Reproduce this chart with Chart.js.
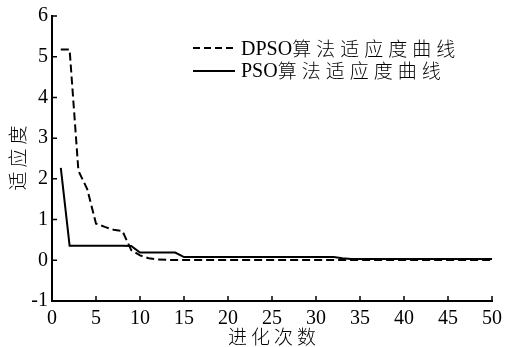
<!DOCTYPE html>
<html><head><meta charset="utf-8">
<script src="https://cdn.jsdelivr.net/npm/chart.js@4"></script>
<style>html,body{margin:0;padding:0;background:#fff}#w{width:508px;height:347px;position:relative}</style>
</head><body><div id="w"><canvas id="c" width="508" height="347"></canvas></div>
<script>
const generations = Array.from({length: 50}, (_, i) => i + 1);
const dpsoFitness = [5.18,5.18,2.2,1.75,0.9,0.82,0.75,0.72,0.25,0.12,
  0.05,0.02,0.01,0.01,0.01,0.01,0.01,0.01,0.01,0.01,
  0.01,0.01,0.01,0.01,0.01,0.01,0.01,0.01,0.01,0.01,
  0.01,0.01,0.01,0.01,0.01,0.01,0.01,0.01,0.01,0.01,
  0.01,0.01,0.01,0.01,0.01,0.01,0.01,0.01,0.01,0.01];
const psoFitness = [2.27,0.36,0.36,0.36,0.36,0.36,0.36,0.36,0.35,0.19,
  0.19,0.19,0.19,0.19,0.08,0.08,0.08,0.08,0.08,0.08,
  0.08,0.08,0.08,0.08,0.08,0.08,0.08,0.08,0.08,0.08,
  0.08,0.08,0.05,0.03,0.03,0.03,0.03,0.03,0.03,0.03,
  0.03,0.03,0.03,0.03,0.03,0.03,0.03,0.03,0.03,0.03];
const seriesNames = ['DPSO算法适应度曲线', 'PSO算法适应度曲线'];
const xTitle = '进化次数';
const yTitle = '适应度';
const xTickValues = [0,5,10,15,20,25,30,35,40,45,50];
const yTickValues = [-1,0,1,2,3,4,5,6];

const serif = "'Liberation Serif', 'Times New Roman', serif";
const cjk = "'Noto Sans CJK SC', sans-serif";

const decor = {
  id: 'decor',
  afterDraw(chart) {
    const ctx = chart.ctx;
    const xs = chart.scales.x, ys = chart.scales.y;
    const a = chart.chartArea;
    ctx.save();
    ctx.strokeStyle = '#000';
    ctx.lineWidth = 1.5;
    ctx.beginPath();
    xTickValues.forEach(v => { const p = xs.getPixelForValue(v); ctx.moveTo(p, a.bottom); ctx.lineTo(p, a.bottom - 5); });
    yTickValues.forEach(v => { const p = ys.getPixelForValue(v); ctx.moveTo(a.left, p); ctx.lineTo(a.left + 5, p); });
    ctx.stroke();
    // legend
    ctx.lineWidth = 2;
    ctx.setLineDash([7, 4]);
    ctx.beginPath(); ctx.moveTo(193, 48); ctx.lineTo(235, 48); ctx.stroke();
    ctx.setLineDash([]);
    ctx.beginPath(); ctx.moveTo(193, 71); ctx.lineTo(235, 71); ctx.stroke();
    ctx.fillStyle = '#000';
    ctx.textBaseline = 'middle';
    ctx.textAlign = 'left';
    const drawMixed = (txt, x, y) => {
      const m = txt.match(/^[A-Za-z]+/);
      const lat = m ? m[0] : '';
      ctx.font = '20px ' + serif;
      ctx.letterSpacing = '0px';
      ctx.fillText(lat, x, y + 1);
      const w = ctx.measureText(lat).width;
      ctx.font = '300 19px ' + cjk;
      ctx.letterSpacing = '5px';
      ctx.fillText(txt.slice(lat.length), x + w, y);
    };
    drawMixed(seriesNames[0], 241, 49);
    drawMixed(seriesNames[1], 241, 71);
    // axis titles
    ctx.font = '300 19px ' + cjk;
    ctx.letterSpacing = '4px';
    ctx.textAlign = 'center';
    ctx.fillText(xTitle, (a.left + a.right) / 2 + 2, 337);
    ctx.save();
    ctx.translate(18, 158);
    ctx.rotate(-Math.PI / 2);
    ctx.fillText(yTitle, 2, 0);
    ctx.restore();
    ctx.restore();
  }
};

new Chart(document.getElementById('c'), {
  type: 'line',
  data: {
    datasets: [
      { label: seriesNames[0], data: generations.map((g, i) => ({x: g, y: dpsoFitness[i]})),
        borderColor: '#000', borderWidth: 2, borderDash: [8, 4], pointRadius: 0, fill: false, tension: 0 },
      { label: seriesNames[1], data: generations.map((g, i) => ({x: g, y: psoFitness[i]})),
        borderColor: '#000', borderWidth: 2, pointRadius: 0, fill: false, tension: 0 }
    ]
  },
  options: {
    responsive: false,
    animation: false,
    devicePixelRatio: 1,
    layout: { padding: { top: 14, right: 13, left: 0, bottom: 0 } },
    plugins: { legend: { display: false }, tooltip: { enabled: false } },
    scales: {
      x: {
        type: 'linear', min: 0, max: 50,
        afterBuildTicks: s => { s.ticks = xTickValues.map(v => ({value: v})); },
        afterFit: s => { s.height = 46; },
        grid: { display: true, drawOnChartArea: false, drawTicks: false },
        border: { display: true, color: '#000', width: 2 },
        ticks: { color: '#000', font: { family: serif, size: 20 }, padding: 6, maxRotation: 0, autoSkip: false }
      },
      y: {
        type: 'linear', min: -1, max: 6,
        afterBuildTicks: s => { s.ticks = yTickValues.map(v => ({value: v})); },
        afterFit: s => { s.width = 52; },
        grid: { display: true, drawOnChartArea: false, drawTicks: false },
        border: { display: true, color: '#000', width: 2 },
        ticks: { color: '#000', font: { family: serif, size: 20 }, padding: 4 }
      }
    }
  },
  plugins: [decor]
});
</script></body></html>
